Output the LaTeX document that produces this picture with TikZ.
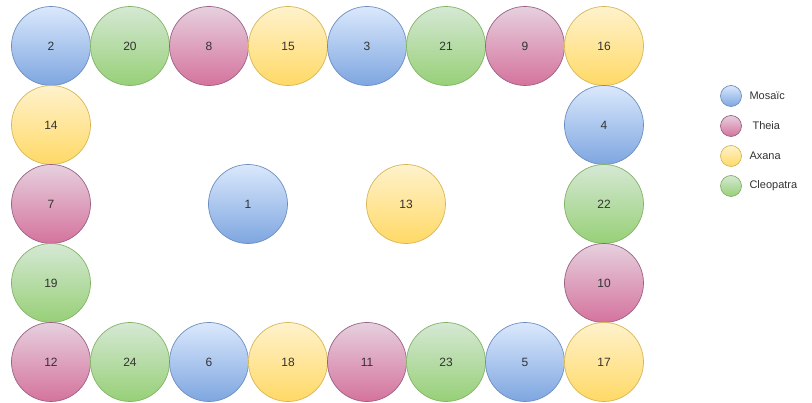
\documentclass[tikz,border=0pt]{standalone}
\usepackage{fontspec}
\setmainfont{Liberation Sans}
\definecolor{mosaicfill}{HTML}{DAE8FC}
\definecolor{mosaicgrad}{HTML}{7EA6E0}
\definecolor{mosaicline}{HTML}{6C8EBF}
\definecolor{theiafill}{HTML}{E6D0DE}
\definecolor{theiagrad}{HTML}{D5739D}
\definecolor{theialine}{HTML}{996185}
\definecolor{axanafill}{HTML}{FFF2CC}
\definecolor{axanagrad}{HTML}{FFD966}
\definecolor{axanaline}{HTML}{D6B656}
\definecolor{cleofill}{HTML}{D5E8D4}
\definecolor{cleograd}{HTML}{97D077}
\definecolor{cleoline}{HTML}{82B366}
\usetikzlibrary{positioning}

\begin{document}
\begin{tikzpicture}[
    x=1pt, y=-1pt,
    seat/.style={circle, minimum size=79pt, inner sep=0pt, line width=0.7pt,
                 font=\fontsize{12}{14}\selectfont, text=black!80},
    mosaic/.style={seat, draw=mosaicline, top color=mosaicfill, bottom color=mosaicgrad},
    theia/.style={seat, draw=theialine, top color=theiafill, bottom color=theiagrad},
    axana/.style={seat, draw=axanaline, top color=axanafill, bottom color=axanagrad},
    cleo/.style={seat, draw=cleoline, top color=cleofill, bottom color=cleograd},
    key/.style={minimum width=21pt, minimum height=20pt},
    keytext/.style={font=\fontsize{11}{13}\selectfont, text=black!80, anchor=west},
]
    \useasboundingbox (0,0) rectangle (812,403);

    \node[mosaic] (n2)  at (51,46)  {2};
    \node[cleo]   (n20) at (130,46) {20};
    \node[theia]  (n8)  at (209,46) {8};
    \node[axana]  (n15) at (288,46) {15};
    \node[mosaic] (n3)  at (367,46) {3};
    \node[cleo]   (n21) at (446,46) {21};
    \node[theia]  (n9)  at (525,46) {9};
    \node[axana]  (n16) at (604,46) {16};

    \node[axana]  (n14) at (51,125) {14};
    \node[theia]  (n7)  at (51,204) {7};
    \node[cleo]   (n19) at (51,283) {19};

    \node[mosaic] (n4)  at (604,125) {4};
    \node[cleo]   (n22) at (604,204) {22};
    \node[theia]  (n10) at (604,283) {10};

    \node[theia]  (n12) at (51,362)  {12};
    \node[cleo]   (n24) at (130,362) {24};
    \node[mosaic] (n6)  at (209,362) {6};
    \node[axana]  (n18) at (288,362) {18};
    \node[theia]  (n11) at (367,362) {11};
    \node[cleo]   (n23) at (446,362) {23};
    \node[mosaic] (n5)  at (525,362) {5};
    \node[axana]  (n17) at (604,362) {17};

    \node[mosaic] (n1)  at (248,204) {1};
    \node[axana]  (n13) at (406,204) {13};

    \node[mosaic, key] (kmosaic) at (731,96)  {};
    \node[theia, key]  (ktheia)  at (731,126) {};
    \node[axana, key]  (kaxana)  at (731,156) {};
    \node[cleo, key]   (kcleo)   at (731,186) {};
    \node[keytext] (lmosaic) at (746,96)  {Mosaïc};
    \node[keytext] (ltheia)  at (749,126) {Theia};
    \node[keytext] (laxana)  at (746,156) {Axana};
    \node[keytext] (lcleo)   at (746,186) {Cleopatra};
\end{tikzpicture}
\end{document}
